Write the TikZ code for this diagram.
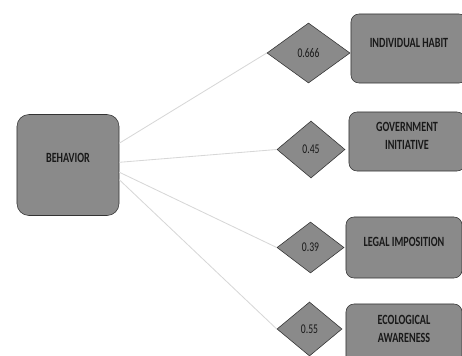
\documentclass[tikz,border=0pt]{standalone}
\usepackage{fontspec}
\setmainfont{Carlito}[FakeStretch=0.72]
\usepackage{tikz}
\usetikzlibrary{shapes.geometric}
\definecolor{dsGray}{RGB}{138, 138, 138}
\definecolor{dsText}{RGB}{25, 25, 25}
\definecolor{dsLine}{RGB}{215, 215, 215}

\begin{document}
\begin{tikzpicture} [
    x=0.025cm, y=-0.025cm,
    decision/.style = { diamond, draw=black!80, fill=dsGray,
                        inner sep=0pt, text=dsText,
                        font=\fontsize{9.5}{10}\selectfont},
    block/.style    = { rectangle, draw=black!80, fill=dsGray,
                        rounded corners=0.2cm, align=center, text=dsText,
                        minimum width=2.9cm, text depth=0.3cm,
                        font=\fontsize{10}{12.8}\selectfont\bfseries},
    line/.style     = { draw=dsLine, line width=0.6pt},
  ]

\useasboundingbox (0,0) rectangle (462,356);
\clip (0,0) rectangle (462,356);

%linker Knoten
  \node [block, minimum width=2.55cm, minimum height=2.525cm,
         rounded corners=0.3cm, text depth=0.35cm] (beh) at (68,165) {BEHAVIOR};

%Rauten (Gewichte)
  \node [decision, minimum width=2.075cm, minimum height=1.5cm]  (d1) at (308.5,53)  {0.666};
  \node [decision, minimum width=1.7cm,   minimum height=1.425cm] (d2) at (311,149.5) {0.45};
  \node [decision, minimum width=1.675cm, minimum height=1.275cm] (d3) at (310.5,247.5) {0.39};
  \node [decision, minimum width=1.625cm, minimum height=1.35cm]  (d4) at (309.5,329) {0.55};

%rechte Knoten
  \node [block, minimum height=1.725cm]  (b1) at (409,48.5)  {INDIVIDUAL HABIT};
  \node [block, minimum height=1.475cm]  (b2) at (407,141.5) {GOVERNMENT\\INITIATIVE};
  \node [block, minimum height=1.525cm]  (b3) at (404,247.5) {LEGAL IMPOSITION};
  \node [block, minimum height=1.55cm]   (b4) at (404,335)   {ECOLOGICAL\\AWARENESS};

%graue Linien (von Verhalten zu Raute)
  \begin{scope} [every path/.style={line}]
   \path (beh.23)  -- (d1.west);
   \path (beh.3)   -- (d2.west);
   \path (beh.-8)  -- (d3.west);
   \path (beh.-16) -- (d4.west);
  \end{scope}
\end{tikzpicture}
\end{document}
